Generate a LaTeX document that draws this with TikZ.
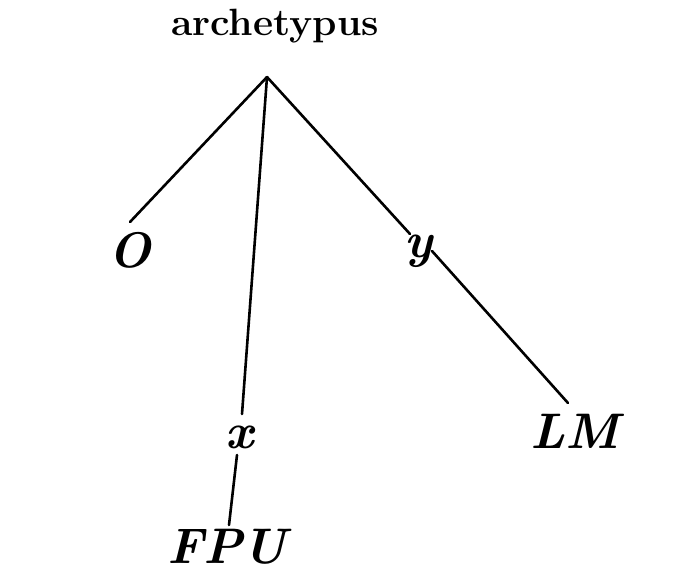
\documentclass[tikz,border=0pt]{standalone}
\begin{document}
\begin{tikzpicture}[x=1pt,y=-1pt,
  title/.style={inner sep=0pt,anchor=base,font=\fontsize{38}{46}\selectfont\bfseries},
  lbl/.style={inner sep=0pt,anchor=base,font=\fontsize{50}{60}\selectfont\bfseries\itshape},
  branch/.style={line width=2.6pt,line cap=round}]
\useasboundingbox (0,0) rectangle (673,586);
\node[title] (arch) at (275,36) {\scalebox{1.03}[1]{archetypus}};
\node[lbl] (O) at (130,267) {O};
\node[lbl] (x) at (240,448) {x};
\node[lbl] (y) at (419,257) {y};
\node[lbl] (LM) at (575,448) {LM};
\node[lbl] (FPU) at (227,563) {FPU};
\coordinate (apex) at (267,77);
\coordinate (Oend) at (130,222);
\coordinate (xend) at (242,414);
\coordinate (yend) at (410,234);
\coordinate (ystart) at (432,251);
\coordinate (LMend) at (568,403);
\coordinate (xstart) at (237,455);
\coordinate (FPUend) at (229,525);
\draw[branch] (apex) -- (Oend);
\draw[branch] (apex) -- (xend);
\draw[branch] (apex) -- (yend);
\draw[branch] (ystart) -- (LMend);
\draw[branch] (xstart) -- (FPUend);
\end{tikzpicture}
\end{document}
